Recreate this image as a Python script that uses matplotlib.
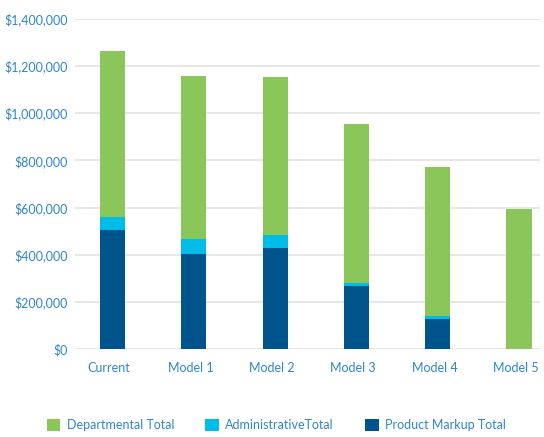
import matplotlib.pyplot as plt
import numpy as np
from matplotlib.ticker import FuncFormatter

plt.rcParams['font.family'] = ['Lato', 'DejaVu Sans']

categories = ['Current', 'Model 1', 'Model 2', 'Model 3', 'Model 4', 'Model 5']
product_markup = [505000, 403000, 430000, 269000, 126000, 0]
administrative = [55000, 64000, 52000, 12000, 13000, 0]
departmental = [704000, 691000, 672000, 672000, 634000, 595000]

green = '#8BC65A'
cyan = '#00BCE8'
navy = '#00548C'
text_col = '#2F86C9'

fig = plt.figure(figsize=(5.44, 4.37), dpi=100)
ax = fig.add_axes([0.138, 0.201, 0.855, 0.756])

x = np.arange(len(categories)) + 0.04
w = 0.31
pm = np.array(product_markup)
ad = np.array(administrative)
ax.bar(x, pm, w, color=navy, label='Product Markup Total', zorder=3)
ax.bar(x, ad, w, bottom=pm, color=cyan, label='AdministrativeTotal', zorder=3)
ax.bar(x, departmental, w, bottom=pm + ad, color=green, label='Departmental Total', zorder=3)

ax.set_ylim(0, 1400000)
ax.set_yticks(np.arange(0, 1400001, 200000))
ax.yaxis.set_major_formatter(FuncFormatter(lambda v, p: '${:,.0f}'.format(v)))
ax.set_xlim(-0.42, 5.3)
ax.set_xticks(np.arange(len(categories)))
ax.set_xticklabels(categories)

ax.grid(axis='y', color='#e3e3e3', linewidth=1.2, zorder=0)
for s in ax.spines.values():
    s.set_visible(False)
ax.tick_params(length=0, colors=text_col, labelsize=9)
ax.tick_params(axis='y', pad=5)
ax.tick_params(axis='x', pad=9)

handles, labels = ax.get_legend_handles_labels()
fig.legend(handles[::-1], labels[::-1], loc='center', bbox_to_anchor=(0.508, 0.027),
           ncol=3, frameon=False, fontsize=9, labelcolor=text_col,
           handlelength=1.1, handleheight=1.1, columnspacing=2.5, handletextpad=0.5)

fig.savefig('out.png', dpi=100)
